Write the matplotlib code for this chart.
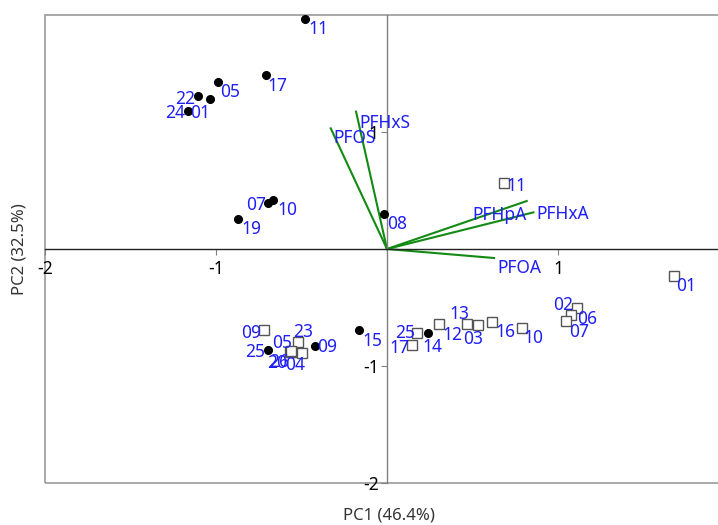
import matplotlib
matplotlib.use('Agg')
import matplotlib.pyplot as plt
from matplotlib.patches import Rectangle

plt.rcParams['font.family'] = ['Noto Sans', 'DejaVu Sans']

# scores, group A (filled dots)
dot_ids = ['11', '17', '05', '22', '01', '24', '07', '10', '19', '08', '15', '09', '25', '14']
dot_pc1 = [-0.480, -0.709, -0.987, -1.104, -1.035, -1.162, -0.696, -0.667, -0.871, -0.018, -0.162, -0.421, -0.694, 0.242]
dot_pc2 = [1.966, 1.487, 1.430, 1.308, 1.279, 1.182, 0.393, 0.419, 0.256, 0.297, -0.692, -0.826, -0.863, -0.715]

# scores, group B (open squares)
sq_ids = ['11', '01', '02', '06', '07', '10', '16', '03', '13', '12', '25', '17', '09', '23', '05', '04', '20', '26']
sq_pc1 = [0.686, 1.678, 1.113, 1.076, 1.049, 0.788, 0.614, 0.534, 0.470, 0.304, 0.174, 0.144, -0.718, -0.519, -0.557, -0.499, -0.567, -0.561]
sq_pc2 = [0.562, -0.231, -0.507, -0.564, -0.615, -0.673, -0.627, -0.652, -0.641, -0.641, -0.715, -0.821, -0.692, -0.797, -0.878, -0.886, -0.880, -0.872]

# loadings
var_names = ['PFHxS', 'PFOS', 'PFHpA', 'PFHxA', 'PFOA']
load_pc1 = [-0.181, -0.329, 0.817, 0.856, 0.626]
load_pc2 = [1.174, 1.031, 0.410, 0.313, -0.077]

# label placement (pixel offsets of label centre from the marker)
dot_off = [(13, -10), (12, -11), (12, -10), (-13, -3), (-10, -14), (-13, -2), (-12, -2),
           (14, -10), (13, -10), (13, -10), (13, -11), (12, -1), (-13, -2), (4, -14)]
sq_off = [(12, -3), (12, -10), (-14, 3), (16, -4), (13, -11), (12, -10), (13, -10), (-5, -14),
          (-8, 10), (13, -11), (-12, 0), (-12, -3), (-13, -3), (5, 10), (-10, 9), (-7, -12),
          (-13, -11), (-12, -11)]
var_off = [(3, -11, 'left'), (3, -10, 'left'), (0, -14, 'right'), (3, -2, 'left'), (3, -10, 'left')]

blue = '#1f1ff5'
fig = plt.figure(figsize=(7.18, 5.25), dpi=100)
ax = fig.add_axes([45 / 718, 42 / 525, 684 / 718, 468 / 525])
ax.set_xlim(-2, 2)
ax.set_ylim(-2, 2)

# outer frame (right side runs off the picture)
ax.add_patch(Rectangle((0, 0), 1, 1, transform=ax.transAxes, fill=False,
                       edgecolor='#9a9a9a', lw=1.2, clip_on=False, zorder=0))
for s in ['top', 'right']:
    ax.spines[s].set_visible(False)
ax.spines['left'].set_position('zero')
ax.spines['bottom'].set_position('zero')
ax.spines['left'].set_color('#808080')
ax.spines['bottom'].set_color('#222222')
ax.spines['left'].set_linewidth(1)
ax.spines['bottom'].set_linewidth(1)

ax.set_xticks([-2, -1, 1])
ax.set_yticks([-2, -1, 1])
ax.set_xticklabels(['-2', '-1', '1'])
ax.set_yticklabels(['-2', '-1', '1'])
ax.tick_params(axis='both', labelsize=12.5, length=4, width=0.8, color='#808080')
ax.tick_params(axis='x', pad=4)
ax.tick_params(axis='y', pad=2)

fig.text(389 / 718, 1 - 515 / 525, 'PC1 (46.4%)', ha='center', va='center', fontsize=12, color='#333333')
fig.text(20 / 718, 1 - 249 / 525, 'PC2 (32.5%)', ha='center', va='center', fontsize=12,
         color='#333333', rotation=90)

# loadings
for name, x, y, (dx, dy, ha) in zip(var_names, load_pc1, load_pc2, var_off):
    ax.plot([0, x], [0, y], color='#138a13', lw=1.5, zorder=2)
    ax.annotate(name, (x, y), xytext=(dx, dy), textcoords='offset pixels',
                ha=ha, va='center', fontsize=12.5, color=blue, zorder=4)

# scores
ax.plot(sq_pc1, sq_pc2, 's', ms=7, mfc='white', mec='#555555', mew=1, ls='none', zorder=3)
ax.plot(dot_pc1, dot_pc2, 'o', ms=5.5, color='black', ls='none', zorder=3)

for lab, x, y, (dx, dy) in zip(sq_ids, sq_pc1, sq_pc2, sq_off):
    ax.annotate(lab, (x, y), xytext=(dx, dy), textcoords='offset pixels',
                ha='center', va='center', fontsize=12.5, color=blue, zorder=4)
for lab, x, y, (dx, dy) in zip(dot_ids, dot_pc1, dot_pc2, dot_off):
    ax.annotate(lab, (x, y), xytext=(dx, dy), textcoords='offset pixels',
                ha='center', va='center', fontsize=12.5, color=blue, zorder=4)

fig.savefig('out.png', dpi=100)
